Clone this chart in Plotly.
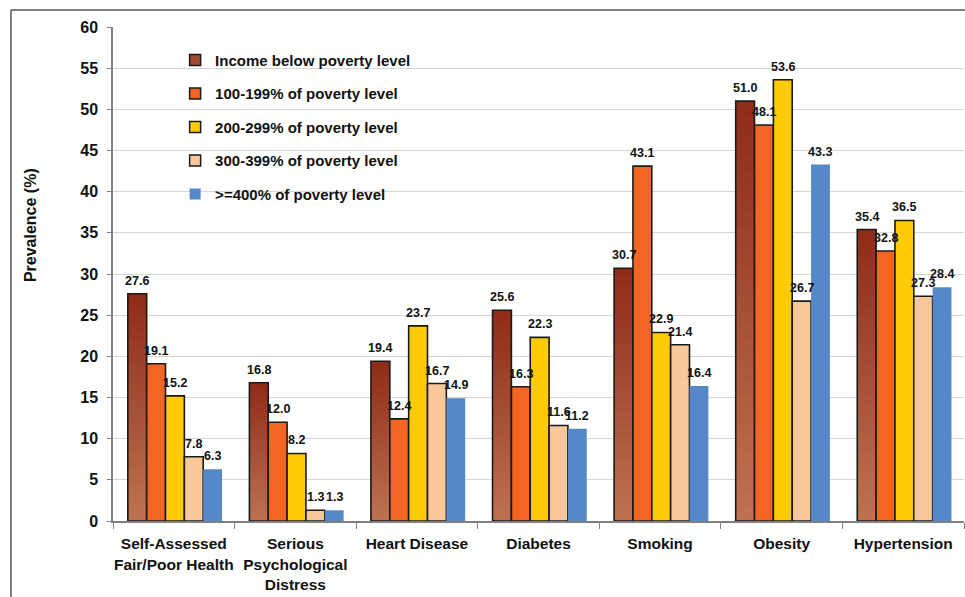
import plotly.graph_objects as go

# ---------------- data ----------------
categories = ["Self-Assessed<br>Fair/Poor Health", "Serious<br>Psychological<br>Distress",
              "Heart Disease", "Diabetes", "Smoking", "Obesity", "Hypertension"]
series_names = ["Income below poverty level", "100-199% of poverty level",
                "200-299% of poverty level", "300-399% of poverty level",
                ">=400% of poverty level"]
below_poverty = [27.6, 16.8, 19.4, 25.6, 30.7, 51.0, 35.4]
pov_100_199 = [19.1, 12.0, 12.4, 16.3, 43.1, 48.1, 32.8]
pov_200_299 = [15.2, 8.2, 23.7, 22.3, 22.9, 53.6, 36.5]
pov_300_399 = [7.8, 1.3, 16.7, 11.6, 21.4, 26.7, 27.3]
pov_400_plus = [6.3, 1.3, 14.9, 11.2, 16.4, 43.3, 28.4]
y_ticks = list(range(0, 61, 5))

series_values = [below_poverty, pov_100_199, pov_200_299, pov_300_399, pov_400_plus]

# ---------------- style ----------------
FONT = "Liberation Sans, Arial, sans-serif"
colors = ["#a34a30", "#f26522", "#ffcb05", "#fac898", "#5588c8"]
grad_top = (143, 44, 26)
grad_bottom = (188, 114, 80)
outline = "#1a1a1a"
BAR_W = 0.155
OFF0 = -0.378
N_GRAD = 30

fig = go.Figure()

# gradient bars for the first series (overlapping bands, lighter on top of darker)
for j in range(N_GRAD):
    t = j / (N_GRAD - 1)
    c = tuple(round(grad_top[k] * (1 - t) + grad_bottom[k] * t) for k in range(3))
    fig.add_trace(go.Bar(
        x=categories, y=[v * (N_GRAD - j) / N_GRAD for v in below_poverty],
        base=0, offset=OFF0, width=BAR_W,
        marker=dict(color="rgb(%d,%d,%d)" % c, line=dict(width=0)),
        showlegend=False, hoverinfo="skip"))

# outline of first series + other series
for i, vals in enumerate(series_values):
    fill = "rgba(0,0,0,0)" if i == 0 else colors[i]
    lw = 0 if i == 4 else 1.6
    fig.add_trace(go.Bar(
        x=categories, y=vals, offset=OFF0 + i * BAR_W, width=BAR_W,
        marker=dict(color=fill, line=dict(color=outline, width=lw)),
        name=series_names[i], showlegend=False))

# legend entries
for i, name in enumerate(series_names):
    fig.add_trace(go.Scatter(
        x=[None], y=[None], mode="markers", name=name, legendgroup=f"g{i}",
        marker=dict(symbol="square", size=11, color=colors[i],
                    line=dict(color=outline, width=0 if i == 4 else 1.5))))

# value labels
annotations = []
for i, vals in enumerate(series_values):
    for ci, v in enumerate(vals):
        annotations.append(dict(
            x=ci + OFF0 + i * BAR_W + BAR_W / 2, y=v, xref="x", yref="y",
            text=f"{v:.1f}", showarrow=False, yanchor="bottom", xanchor="center",
            yshift=4, font=dict(family=FONT, size=12.5, color="#111", weight="bold")))

# y-axis title
annotations.append(dict(
    x=-0.0975, y=0.599, xref="paper", yref="paper", text="Prevalence (%)",
    textangle=-90, showarrow=False, xanchor="center", yanchor="middle",
    font=dict(family=FONT, size=16, color="#111", weight="bold")))

fig.update_layout(
    width=965, height=597,
    margin=dict(l=113, r=1, t=27, b=76, autoexpand=False),
    paper_bgcolor="white", plot_bgcolor="white",
    barmode="overlay",
    font=dict(family=FONT, color="#111"),
    annotations=annotations,
    legend=dict(x=0.073, y=0.966, xanchor="left", yanchor="top",
                bgcolor="rgba(0,0,0,0)", tracegroupgap=11,
                font=dict(family=FONT, size=15, color="#111", weight="bold")),
    shapes=[
        dict(type="line", xref="paper", yref="paper", x0=-0.1199, x1=-0.1199,
             y0=-0.16, y1=1.0344, line=dict(color="#555", width=1.5)),
        dict(type="line", xref="paper", yref="paper", x0=-0.1199, x1=1.01,
             y0=1.0344, y1=1.0344, line=dict(color="#555", width=1.5)),
    ],
    xaxis=dict(type="category", categoryorder="array", categoryarray=categories,
               range=[-0.5, 6.5], showline=True, linecolor="#808080", linewidth=1.5,
               ticks="outside", tickson="boundaries", ticklen=6, tickcolor="#808080",
               tickwidth=1.2, ticklabelstandoff=8, showgrid=False, tickangle=0,
               automargin=False,
               tickfont=dict(family=FONT, size=15.5, color="#111", weight="bold")),
    yaxis=dict(range=[0, 60], tickvals=y_ticks, showline=True, linecolor="#808080",
               linewidth=1.5, ticks="outside", ticklen=4, tickcolor="#808080",
               gridcolor="#d6d6d6", gridwidth=1, zeroline=False, ticklabelstandoff=6,
               automargin=False,
               tickfont=dict(family=FONT, size=16, color="#111", weight="bold")),
)

fig.write_html("out.html")
